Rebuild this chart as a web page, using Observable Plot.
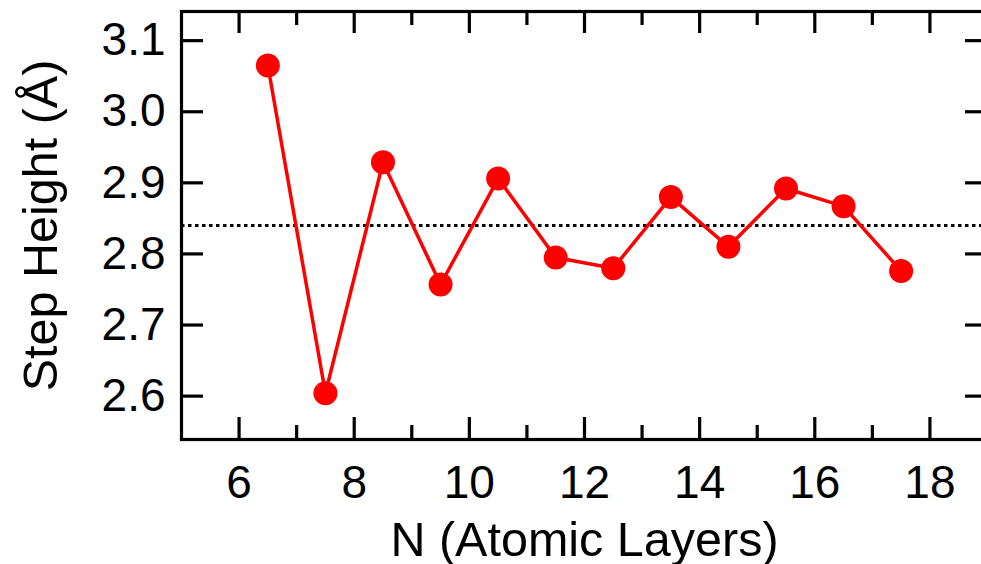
<!DOCTYPE html>
<html>
<head>
<meta charset="utf-8">
<script src="https://cdn.jsdelivr.net/npm/d3@7"></script>
<script src="https://cdn.jsdelivr.net/npm/@observablehq/plot@0.6"></script>
<style>
  html, body { margin: 0; padding: 0; background: #fff; }
  #chart { width: 981px; height: 564px; overflow: hidden; }
</style>
</head>
<body>
<div id="chart"></div>
<script>
// Data
const layers = [6.5, 7.5, 8.5, 9.5, 10.5, 11.5, 12.5, 13.5, 14.5, 15.5, 16.5, 17.5];
const stepHeight = [3.065, 2.604, 2.929, 2.757, 2.906, 2.795, 2.780, 2.880, 2.810, 2.892, 2.867, 2.776];
const meanHeight = [2.84];
const xMajorTicks = [6, 8, 10, 12, 14, 16, 18];
const xMinorTicks = [7, 9, 11, 13, 15, 17];
const yTicks = [2.6, 2.7, 2.8, 2.9, 3.0, 3.1];
const xLabel = ["N (Atomic Layers)"];
const yLabel = ["Step Height (Å)"];

const data = layers.map((n, i) => ({n, h: stepHeight[i]}));

const W = 981, H = 564;
const mL = 181, mT = 11, mR = -6, mB = 125;
const plotW = W - mL - mR, plotH = H - mT - mB;
const major = 22, minor = 14;
const red = "#ff0000";

const chart = Plot.plot({
  width: W,
  height: H,
  marginLeft: mL,
  marginTop: mT,
  marginRight: mR,
  marginBottom: mB,
  style: {fontFamily: "Liberation Sans, Arial, sans-serif", fontSize: "46px", color: "#000", background: "#fff", overflow: "visible"},
  x: {domain: [5, 19]},
  y: {domain: [2.539, 3.141]},
  marks: [
    Plot.ruleY(meanHeight, {strokeDasharray: "3.5,3.5", strokeWidth: 3.2, stroke: "#000"}),
    Plot.line(data, {x: "n", y: "h", stroke: red, strokeWidth: 3.5}),
    Plot.dot(data, {x: "n", y: "h", r: 12, fill: red, stroke: "none"}),
    // inward ticks
    Plot.tickY(yTicks, {y: d => d, insetRight: plotW - major, strokeWidth: 3.2, stroke: "#000"}),
    Plot.tickY(yTicks, {y: d => d, insetLeft: plotW - major, strokeWidth: 3.2, stroke: "#000"}),
    Plot.tickX(xMajorTicks, {x: d => d, insetTop: plotH - major, strokeWidth: 3.2, stroke: "#000"}),
    Plot.tickX(xMinorTicks, {x: d => d, insetTop: plotH - minor, strokeWidth: 3.2, stroke: "#000"}),
    Plot.tickX(xMajorTicks, {x: d => d, insetBottom: plotH - major, strokeWidth: 3.2, stroke: "#000"}),
    Plot.tickX(xMinorTicks, {x: d => d, insetBottom: plotH - minor, strokeWidth: 3.2, stroke: "#000"}),
    Plot.frame({stroke: "#000", strokeWidth: 3.2}),
    Plot.axisX({ticks: xMajorTicks, tickSize: 0, tickPadding: 26, label: null, fontSize: 46, tickFormat: d3.format("d")}),
    Plot.axisY({ticks: yTicks, tickSize: 0, tickPadding: 16, label: null, fontSize: 46, tickFormat: d3.format(".1f")}),
    Plot.text(xLabel, {text: d => d, frameAnchor: "bottom", textAnchor: "middle", lineAnchor: "middle", dy: 101, fontSize: 48.5, fill: "#000"}),
    Plot.text(yLabel, {text: d => d, frameAnchor: "left", textAnchor: "middle", lineAnchor: "middle", rotate: -90, dx: -140, fontSize: 48.5, fill: "#000"})
  ]
});
document.getElementById("chart").appendChild(chart);
</script>
</body>
</html>
